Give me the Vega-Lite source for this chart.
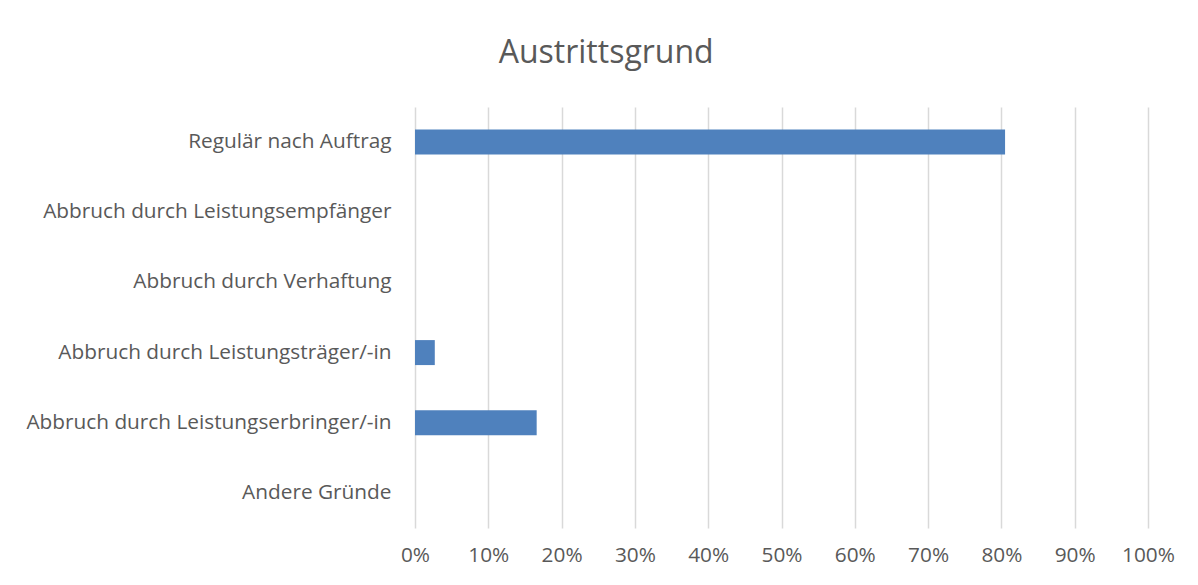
{
  "$schema": "https://vega.github.io/schema/vega-lite/v6.json",
  "autosize": "none",
  "width": 733,
  "height": 421,
  "padding": {"left": 415, "top": 107, "right": 50, "bottom": 57},
  "background": "white",
  "title": {
    "text": "Austrittsgrund",
    "fontSize": 32,
    "font": "Open Sans",
    "fontWeight": "normal",
    "color": "#595959",
    "anchor": "middle",
    "frame": "bounds",
    "dx": 6,
    "offset": 37
  },
  "data": {
    "values": [
      {"grund": "Regulär nach Auftrag", "anteil": 0.805},
      {"grund": "Abbruch durch Leistungsempfänger", "anteil": 0},
      {"grund": "Abbruch durch Verhaftung", "anteil": 0},
      {"grund": "Abbruch durch Leistungsträger/-in", "anteil": 0.027},
      {"grund": "Abbruch durch Leistungserbringer/-in", "anteil": 0.166},
      {"grund": "Andere Gründe", "anteil": 0}
    ]
  },
  "mark": {"type": "bar", "color": "#4f81bd"},
  "encoding": {
    "y": {
      "field": "grund",
      "type": "nominal",
      "sort": null,
      "title": null,
      "scale": {"paddingInner": 0.644, "paddingOuter": 0.322},
      "axis": {
        "domain": false,
        "ticks": false,
        "labelPadding": 24,
        "labelFontSize": 20.8,
        "labelFont": "Open Sans",
        "labelColor": "#595959",
        "labelLimit": 500
      }
    },
    "x": {
      "field": "anteil",
      "type": "quantitative",
      "title": null,
      "scale": {"domain": [0, 1], "nice": false},
      "axis": {
        "format": "%",
        "values": [0, 0.1, 0.2, 0.3, 0.4, 0.5, 0.6, 0.7, 0.8, 0.9, 1],
        "domain": false,
        "ticks": false,
        "grid": true,
        "gridColor": "#d9d9d9",
        "gridWidth": 1.5,
        "labelFlush": false,
        "labelPadding": 17,
        "labelFontSize": 20.8,
        "labelFont": "Open Sans",
        "labelColor": "#595959"
      }
    }
  },
  "config": {
    "view": {"stroke": null},
    "axisY": {"grid": false}
  }
}
